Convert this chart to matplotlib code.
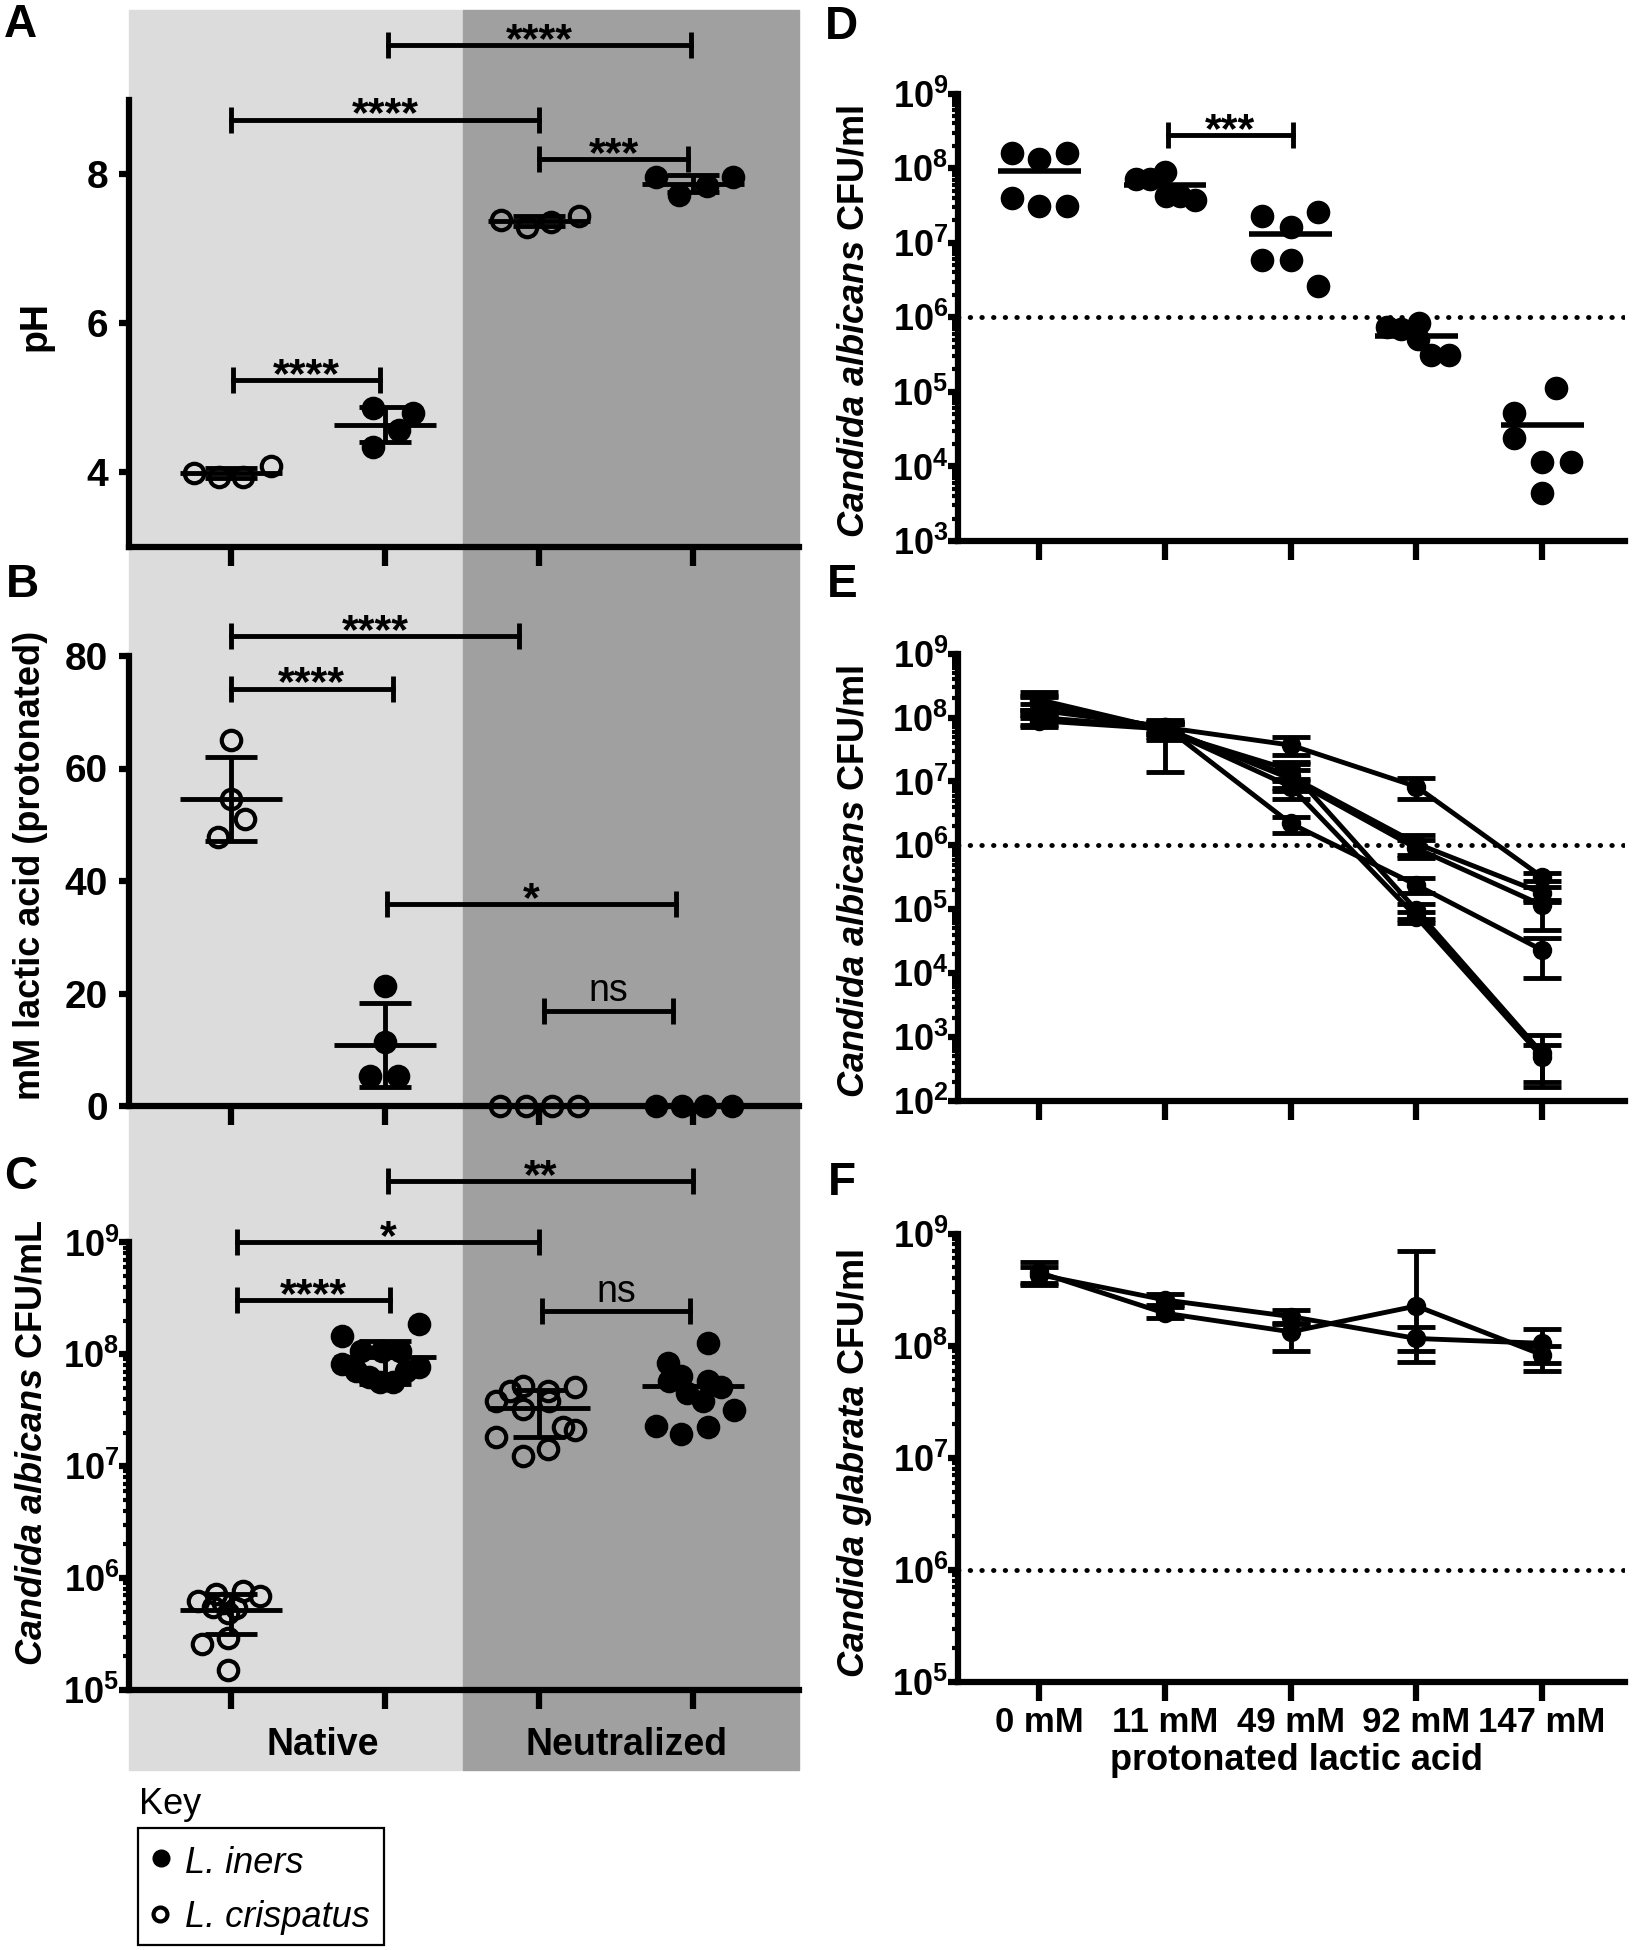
import numpy as np
import matplotlib
matplotlib.use('Agg')
import matplotlib.pyplot as plt
from matplotlib.patches import Rectangle

plt.rcParams['font.family'] = ['Liberation Sans', 'DejaVu Sans']
plt.rcParams['font.weight'] = 'bold'
plt.rcParams['mathtext.fontset'] = 'custom'
plt.rcParams['mathtext.rm'] = 'Liberation Sans:bold'
plt.rcParams['mathtext.it'] = 'Liberation Sans:italic:bold'
plt.rcParams['mathtext.bf'] = 'Liberation Sans:bold'

W, H = 1638, 1950

# ---------------- data ----------------
# left column: crispatus native, iners native, crispatus neutralized, iners neutralized
group_pos = [1, 2, 3, 4]
group_filled = [False, True, False, True]

# A - pH
ph_vals = [[3.99, 3.94, 3.94, 4.08],
           [4.86, 4.79, 4.57, 4.34],
           [7.39, 7.29, 7.36, 7.44],
           [7.96, 7.72, 7.84, 7.96]]
ph_dx = [[-0.24, -0.08, 0.08, 0.26],
         [-0.08, 0.18, 0.09, -0.08],
         [-0.25, -0.08, 0.08, 0.26],
         [-0.24, -0.09, 0.09, 0.26]]
ph_brackets = [(2.02, 3.99, 9.73, '****'), (1.0, 3.0, 8.73, '****'),
               (3.0, 3.97, 8.2, '***'), (1.01, 1.97, 5.24, '****')]

# B - mM lactic acid (protonated)
lac_vals = [[65.1, 54.5, 51.1, 47.9],
            [21.3, 11.4, 5.4, 5.4],
            [0, 0, 0, 0],
            [0, 0, 0, 0]]
lac_dx = [[0, 0, 0.09, -0.085],
          [0, 0, -0.095, 0.085],
          [-0.255, -0.085, 0.085, 0.255],
          [-0.24, -0.07, 0.08, 0.25]]
lac_brackets = [(1.0, 2.87, 83.6, '****'), (1.0, 2.05, 74.2, '****'),
                (2.01, 3.89, 35.9, '*'), (3.03, 3.87, 16.9, 'ns')]

# C - Candida albicans CFU/mL
cfu_vals = [[6.27e5, 7.18e5, 7.7e5, 6.95e5, 5.57e5, 5.46e5, 5.97e5, 4.85e5, 2.56e5, 2.89e5, 1.51e5],
            [1.45e8, 1.85e8, 1.07e8, 1.07e8, 1.07e8, 8.2e7, 7.06e7, 6.24e7, 5.62e7, 5.62e7, 7.06e7, 7.78e7],
            [3.86e7, 4.68e7, 5.26e7, 4.68e7, 3.86e7, 5.08e7, 3.25e7, 2.22e7, 2.11e7, 1.83e7, 1.42e7, 1.24e7],
            [1.26e8, 8.34e7, 6.47e7, 5.75e7, 5.83e7, 5.08e7, 4.49e7, 3.86e7, 3.18e7, 2.3e7, 1.94e7, 2.22e7]]
cfu_dx = [[-0.215, -0.094, 0.077, 0.19, -0.115, 0.034, -0.051, -0.019, -0.19, -0.019, -0.019],
          [-0.28, 0.22, -0.154, -0.021, 0.096, -0.277, -0.19, -0.107, -0.032, 0.053, 0.139, 0.218],
          [-0.277, -0.19, -0.104, 0.058, 0.065, 0.232, -0.104, 0.156, 0.232, -0.277, 0.058, -0.104],
          [0.097, -0.162, -0.076, -0.156, 0.097, 0.18, -0.041, 0.067, 0.266, -0.242, -0.076, 0.097]]
cfu_show_sd = [True, True, True, False]
cfu_brackets = [(2.02, 4.0, 10 ** 9.55, '**'), (1.04, 3.0, 1e9, '*'),
                (1.04, 2.03, 10 ** 8.487, '****'), (3.02, 3.98, 10 ** 8.385, 'ns')]

# right column
conc_labels = ['0 mM', '11 mM', '49 mM', '92 mM', '147 mM']
conc_pos = [0, 1, 2, 3, 4]

# D - C. albicans CFU/ml per concentration
d_vals = [[1.6e8, 1.33e8, 1.6e8, 3.95e7, 3.1e7, 3.1e7],
          [7.24e7, 7.24e7, 8.83e7, 4.27e7, 4.18e7, 3.74e7],
          [2.28e7, 1.64e7, 2.6e7, 5.86e6, 5.86e6, 2.65e6],
          [7.46e5, 7.06e5, 8.32e5, 5.07e5, 3.09e5, 3.09e5],
          [1.14e5, 5.28e4, 2.44e4, 1.13e4, 1.13e4, 4.43e3]]
d_dx = [[-0.22, 0, 0.22, -0.22, 0, 0.22],
        [-0.23, -0.12, 0.0, 0.01, 0.12, 0.24],
        [-0.23, 0, 0.22, -0.23, 0, 0.22],
        [-0.23, -0.12, 0.02, 0.01, 0.12, 0.26],
        [0.11, -0.22, -0.22, 0, 0.23, 0]]
d_brackets = [(1.02, 2.015, 2.78e8, '***')]

# E - C. albicans, one line per strain (mean, upper and lower SD)
e_mean = [[1.0e8, 7.0e7, 3.7e7, 8.3e6, 3.2e5],
          [1.9e8, 6.5e7, 1.2e7, 1.07e6, 1.8e5],
          [1.6e8, 6.8e7, 1.1e7, 9.0e5, 1.16e5],
          [1.3e8, 7.2e7, 2.2e6, 2.4e5, 2.3e4],
          [1.75e8, 6.0e7, 1.5e7, 9.7e4, 5.6e2],
          [8.9e7, 6.6e7, 8.3e6, 7.6e4, 4.9e2]]
e_hi = [[1.3e8, 8.5e7, 5.0e7, 1.12e7, 3.65e5],
        [2.5e8, 9.0e7, 1.9e7, 1.45e6, 2.2e5],
        [2.1e8, 8.0e7, 1.5e7, 1.2e6, 1.3e5],
        [1.6e8, 8.5e7, 2.8e6, 3.05e5, 3.5e4],
        [2.2e8, 8.0e7, 2.0e7, 1.2e5, 1.07e3],
        [1.1e8, 8.0e7, 1.1e7, 9.0e4, 7.5e2]]
e_lo = [[7.5e7, 5.5e7, 2.6e7, 5.4e6, 2.8e5],
        [1.3e8, 4.5e7, 8.0e6, 7.0e5, 1.4e5],
        [1.1e8, 5.5e7, 7.0e6, 6.3e5, 4.7e4],
        [1.0e8, 6.0e7, 1.54e6, 1.8e5, 8.3e3],
        [1.3e8, 1.4e7, 1.0e7, 7.0e4, 2.0e2],
        [7.0e7, 5.0e7, 5.4e6, 6.0e4, 1.67e2]]

# F - C. glabrata
f_mean = [[4.3e8, 2.56e8, 1.82e8, 1.16e8, 1.05e8],
          [4.5e8, 1.95e8, 1.33e8, 2.26e8, 8.3e7]]
f_hi = [[5.0e8, 2.87e8, 2.08e8, 1.46e8, 1.4e8],
        [5.6e8, 2.2e8, 1.55e8, 7.05e8, 1.0e8]]
f_lo = [[3.5e8, 2.3e8, 1.6e8, 9.0e7, 7.0e7],
        [3.6e8, 1.75e8, 9.0e7, 7.2e7, 6.0e7]]

# ---------------- figure ----------------
fig = plt.figure(figsize=(W / 100, H / 100), dpi=100)

# grey backgrounds behind left column
fig.patches.append(Rectangle((129 / W, 1 - 1770 / H), (463 - 129) / W, 1760 / H,
                             transform=fig.transFigure, color='#dcdcdc', zorder=-10))
fig.patches.append(Rectangle((463 / W, 1 - 1770 / H), (799 - 463) / W, 1760 / H,
                             transform=fig.transFigure, color='#a0a0a0', zorder=-10))

SPW = 4.5


def add_ax(x0, y0, x1, y1):
    ax = fig.add_axes([x0 / W, 1 - y1 / H, (x1 - x0) / W, (y1 - y0) / H])
    ax.patch.set_visible(False)
    ax.spines['top'].set_visible(False)
    ax.spines['right'].set_visible(False)
    ax.spines['left'].set_linewidth(SPW)
    ax.spines['bottom'].set_linewidth(SPW)
    ax.tick_params(axis='x', length=14, width=SPW, labelbottom=False)
    ax.tick_params(axis='y', length=7, width=SPW, labelsize=28, pad=8)
    return ax


def log_axis(ax, lo, hi):
    ax.set_yscale('log')
    ax.set_yticks([10.0 ** e for e in range(lo, hi + 1)])
    ax.set_yticklabels([r'$\mathdefault{10^{%d}}$' % e for e in range(lo, hi + 1)])
    ax.set_yticks([m * 10.0 ** e for e in range(lo, hi) for m in range(2, 10)], minor=True)
    ax.tick_params(axis='y', which='minor', length=4, width=3)
    ax.tick_params(axis='y', which='major', pad=0, labelsize=26)


def bracket(ax, x1, x2, y, label):
    ax.plot([x1, x2], [y, y], color='k', lw=3.5, marker='|', ms=19, mew=3.5,
            clip_on=False, zorder=5)
    if label == 'ns':
        ax.annotate(label, ((x1 + x2) / 2, y), xytext=(0, 7), textcoords='offset points',
                    ha='center', va='baseline', fontsize=27, fontweight='normal')
    else:
        ax.annotate(label, ((x1 + x2) / 2, y), xytext=(0, -5), textcoords='offset points',
                    ha='center', va='baseline', fontsize=31, fontweight='bold')


def scatter_groups(ax, vals, dxs, show_sd=(True, True, True, True)):
    for i, (v, dx) in enumerate(zip(vals, dxs)):
        x = group_pos[i]
        ax.plot(x + np.array(dx), v, 'o', ms=14, mfc='k' if group_filled[i] else 'none',
                mec='k', mew=3, clip_on=False, zorder=3)
        m = np.mean(v)
        s = np.std(v, ddof=1)
        ax.hlines(m, x - 0.33, x + 0.33, color='k', lw=3.5, zorder=4, clip_on=False)
        if show_sd[i] and s > 0:
            ax.vlines(x, m - s, m + s, color='k', lw=3.5, zorder=4)
            ax.hlines([m - s, m + s], x - 0.17, x + 0.17, color='k', lw=3.5, zorder=4)


# ---- A ----
axA = add_ax(129, 10, 799, 547)
axA.set_xlim(0.338, 4.688)
axA.set_ylim(3, 10.2)
axA.spines['left'].set_bounds(3, 9)
axA.set_xticks(group_pos)
axA.set_yticks([4, 6, 8])
scatter_groups(axA, ph_vals, ph_dx)
for b in ph_brackets:
    bracket(axA, *b)

# ---- B ----
axB = add_ax(129, 566, 799, 1106)
axB.set_xlim(0.338, 4.688)
axB.set_ylim(0, 96)
axB.spines['left'].set_bounds(0, 80)
axB.set_xticks(group_pos)
axB.set_yticks([0, 20, 40, 60, 80])
scatter_groups(axB, lac_vals, lac_dx)
for b in lac_brackets:
    bracket(axB, *b)

# ---- C ----
axC = add_ax(129, 1125, 799, 1690)
axC.set_xlim(0.338, 4.688)
log_axis(axC, 5, 9)
axC.set_ylim(1e5, 10 ** 10.05)
axC.spines['left'].set_bounds(1e5, 1e9)
axC.set_xticks(group_pos)
scatter_groups(axC, cfu_vals, cfu_dx, cfu_show_sd)
for b in cfu_brackets:
    bracket(axC, *b)

# ---- D ----
axD = add_ax(958, 93.6, 1625, 541)
axD.set_xlim(-0.647, 4.66)
log_axis(axD, 3, 9)
axD.set_ylim(1e3, 1e9)
axD.set_xticks(conc_pos)
axD.axhline(1e6, color='k', lw=3.5, ls=(0, (0.1, 2.3)), dash_capstyle='round', zorder=2)
for i, (v, dx) in enumerate(zip(d_vals, d_dx)):
    axD.plot(conc_pos[i] + np.array(dx), v, 'o', ms=16, color='k', zorder=3)
    axD.hlines(np.mean(v), conc_pos[i] - 0.33, conc_pos[i] + 0.33, color='k', lw=4, zorder=4)
for b in d_brackets:
    bracket(axD, *b)

# ---- E ----
axE = add_ax(958, 653.6, 1625, 1101)
axE.set_xlim(-0.647, 4.66)
log_axis(axE, 2, 9)
axE.set_ylim(1e2, 1e9)
axE.set_xticks(conc_pos)
axE.axhline(1e6, color='k', lw=3.5, ls=(0, (0.1, 2.3)), dash_capstyle='round', zorder=2)
for m, hi, lo in zip(e_mean, e_hi, e_lo):
    m, hi, lo = np.array(m), np.array(hi), np.array(lo)
    axE.errorbar(conc_pos, m, yerr=[m - lo, hi - m], fmt='-o', color='k', lw=3.5, ms=13,
                 elinewidth=3.5, capsize=14, capthick=3.5, zorder=3)

# ---- F ----
axF = add_ax(958, 1233.6, 1625, 1682)
axF.set_xlim(-0.647, 4.66)
log_axis(axF, 5, 9)
axF.set_ylim(1e5, 1e9)
axF.set_xticks(conc_pos)
axF.set_xticklabels(conc_labels)
axF.tick_params(axis='x', labelbottom=True, labelsize=25, pad=3)
axF.axhline(1e6, color='k', lw=3.5, ls=(0, (0.1, 2.3)), dash_capstyle='round', zorder=2)
for m, hi, lo in zip(f_mean, f_hi, f_lo):
    m, hi, lo = np.array(m), np.array(hi), np.array(lo)
    axF.errorbar(conc_pos, m, yerr=[m - lo, hi - m], fmt='-o', color='k', lw=3.5, ms=13,
                 elinewidth=3.5, capsize=14, capthick=3.5, zorder=3)


# ---------------- texts ----------------
def ftext(x, y, s, **kw):
    return fig.text(x / W, 1 - y / H, s, **kw)


ftext(36, 326, 'pH', rotation=90, ha='center', va='center', fontsize=27)
ftext(31, 865, 'mM lactic acid (protonated)', rotation=90, ha='center', va='center', fontsize=26)
ftext(32, 1443, r'$\mathit{Candida}$ $\mathit{albicans}$ CFU/mL', rotation=90,
      ha='center', va='center', fontsize=26)
ftext(854, 321, r'$\mathit{Candida}$ $\mathit{albicans}$ CFU/ml', rotation=90,
      ha='center', va='center', fontsize=26)
ftext(854, 881, r'$\mathit{Candida}$ $\mathit{albicans}$ CFU/ml', rotation=90,
      ha='center', va='center', fontsize=26)
ftext(854, 1463, r'$\mathit{Candida}$ $\mathit{glabrata}$ CFU/ml', rotation=90,
      ha='center', va='center', fontsize=26)

ftext(323, 1745, 'Native', ha='center', va='center', fontsize=27)
ftext(626, 1745, 'Neutralized', ha='center', va='center', fontsize=27)
ftext(1296, 1760, 'protonated lactic acid', ha='center', va='center', fontsize=26)

for lab, x, y in [('A', 20, 25), ('B', 22, 585), ('C', 21, 1177),
                  ('D', 841, 27), ('E', 842, 585), ('F', 842, 1183)]:
    ftext(x, y, lab, ha='center', va='center', fontsize=33)

# key
ftext(139, 1814, 'Key', ha='left', va='baseline', fontsize=26, fontweight='normal')
fig.patches.append(Rectangle((138 / W, 1 - 1945 / H), (384 - 138) / W, (1945 - 1828) / H,
                             transform=fig.transFigure, fill=False, ec='k', lw=1.6))
fig.lines.append(plt.Line2D([161 / W], [1 - 1858 / H], transform=fig.transFigure,
                            marker='o', ms=12, color='k', ls='none'))
fig.lines.append(plt.Line2D([160 / W], [1 - 1914 / H], transform=fig.transFigure,
                            marker='o', ms=10, mfc='none', mec='k', mew=3, ls='none'))
ftext(185, 1873, 'L. iners', ha='left', va='baseline', fontsize=26,
      fontweight='normal', style='italic')
ftext(185, 1927, 'L. crispatus', ha='left', va='baseline', fontsize=26,
      fontweight='normal', style='italic')

fig.savefig('out.png', dpi=100)
